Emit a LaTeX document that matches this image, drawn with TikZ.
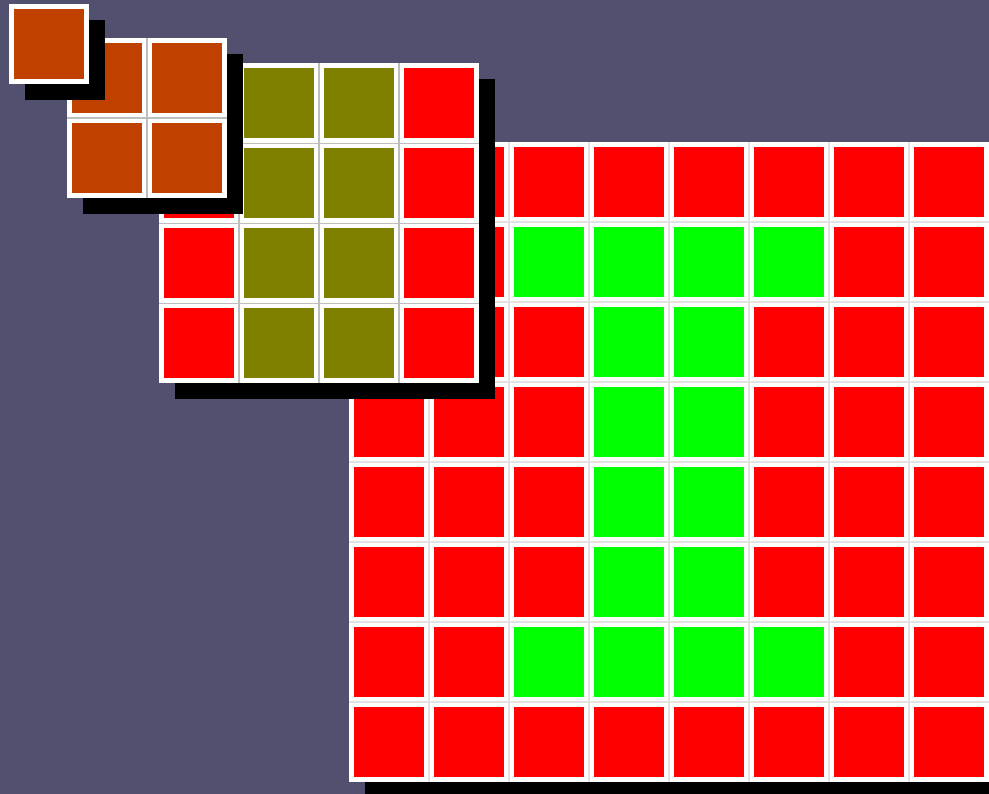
\documentclass[tikz,border=0pt]{standalone}
\definecolor{bg}{RGB}{82,80,111}
\definecolor{cR}{RGB}{255,0,0}
\definecolor{cG}{RGB}{0,255,0}
\definecolor{cO}{RGB}{128,128,0}
\definecolor{cB}{RGB}{192,64,0}
\definecolor{lineA}{RGB}{226,226,226}
\definecolor{lineB}{RGB}{190,190,190}
\tikzset{
  shadowbox/.style={fill=black},
  cellbg/.style={fill=white},
}
% #1 x0, #2 y0, #3 cols, #4 rows, #5 line colour, #6 line width, #7 rows of colours
\newcommand\drawgrid[7]{%
  \fill[shadowbox] (#1+16,#2+16) rectangle ++(#3*80,#4*80);
  \fill[cellbg] (#1,#2) rectangle ++(#3*80,#4*80);
  \pgfmathtruncatemacro\ncm{#3-1}%
  \pgfmathtruncatemacro\nrm{#4-1}%
  \ifnum\ncm>0
    \foreach \k in {1,...,\ncm} {\draw[draw=#5,line width=#6] (#1+\k*80,#2) -- ++(0,#4*80);}
  \fi
  \ifnum\nrm>0
    \foreach \k in {1,...,\nrm} {\draw[draw=#5,line width=#6] (#1,#2+\k*80) -- ++(#3*80,0);}
  \fi
  \foreach \row [count=\r from 0] in {#7} {
    \foreach \col [count=\c from 0] in \row {
      \fill[fill=c\col] (#1+\c*80+5,#2+\r*80+5) rectangle ++(70,70);
    }
  }
}
\begin{document}
\begin{tikzpicture}[x=1pt,y=-1pt]
\fill[bg] (0,0) rectangle (989,794);
\useasboundingbox (0,0) rectangle (989,794);
\clip (0,0) rectangle (989,794);
% large grid
\drawgrid{349}{142}{8}{8}{lineA}{2pt}{{R,R,R,R,R,R,R,R},{R,R,G,G,G,G,R,R},{R,R,R,G,G,R,R,R},{R,R,R,G,G,R,R,R},{R,R,R,G,G,R,R,R},{R,R,R,G,G,R,R,R},{R,R,G,G,G,G,R,R},{R,R,R,R,R,R,R,R}}
% middle grid
\drawgrid{159}{63.5}{4}{4}{lineB}{1.5pt}{{R,O,O,R},{R,O,O,R},{R,O,O,R},{R,O,O,R}}
% small grid
\drawgrid{67}{38}{2}{2}{lineB}{1.5pt}{{B,B},{B,B}}
% tiny grid
\drawgrid{8.5}{4}{1}{1}{lineB}{1.5pt}{{B}}
\end{tikzpicture}
\end{document}
